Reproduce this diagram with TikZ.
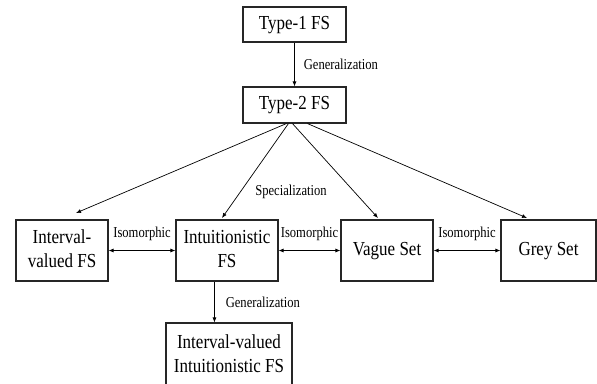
\documentclass[tikz,border=0pt]{standalone}
\usepackage{fontspec}
\usepackage{graphicx}
\setmainfont{Liberation Serif}
\usetikzlibrary{arrows.meta,calc}
\newcommand{\bt}[1]{\scalebox{1}[1.17]{\fontsize{17}{21}\selectfont\begin{tabular}{@{}c@{}}#1\end{tabular}}}
\newcommand{\lt}[1]{\scalebox{1}[1.2]{\fontsize{12.6}{14}\selectfont #1}}
\begin{document}
\begin{tikzpicture}[x=1pt,y=-1pt,
  box/.style={draw=black!85,line width=1.1pt,inner sep=2pt,align=center},
  lab/.style={inner sep=1pt},
  arr/.style={line width=0.7pt,-{Latex[length=5pt,width=4pt]}},
  darr/.style={line width=0.7pt,{Latex[length=5pt,width=4pt]}-{Latex[length=5pt,width=4pt]}}]
\useasboundingbox (0,0) rectangle (597,383);
\node[box,minimum width=103pt,minimum height=35pt] (t1) at (294.5,24.5) {\bt{Type-1 FS}};
\node[box,minimum width=103pt,minimum height=36pt] (t2) at (294.5,105) {\bt{Type-2 FS}};
\node[box,minimum width=92pt,minimum height=61pt] (iv) at (62,250.5) {\bt{Interval-\\valued FS}};
\node[box,minimum width=102pt,minimum height=61pt] (ifs) at (227,250.5) {\bt{Intuitionistic\\FS}};
\node[box,minimum width=92pt,minimum height=61pt] (vs) at (387,250.5) {\bt{Vague Set}};
\node[box,minimum width=95pt,minimum height=61pt] (gs) at (548.5,250.5) {\bt{Grey Set}};
\node[box,minimum width=126pt,minimum height=65pt] (ivifs) at (229,355.5) {\bt{Interval-valued\\Intuitionistic FS}};
% connectors
\draw[arr] (t1.south) -- (t2.north) node[lab,midway,right=8pt] (g1) {\lt{Generalization}};
\coordinate (e1) at (76,213);
\coordinate (e2) at (222,218);
\coordinate (e3) at (378,218);
\coordinate (e4) at (527,218);
\draw[arr] ($(t2.south west)+(44,0)$) -- (e1);
\draw[arr] ($(t2.south west)+(46,0)$) -- (e2);
\draw[arr] ($(t2.south west)+(50,0)$) -- (e3);
\draw[arr] ($(t2.south west)+(65,0)$) -- (e4);
\node[lab] (sp) at (291,192) {\lt{Specialization}};
\draw[darr] (iv.east) -- (ifs.west) node[lab,midway,above=8pt] (i1) {\lt{Isomorphic}};
\draw[darr] (ifs.east) -- (vs.west) node[lab,midway,above=8pt] (i2) {\lt{Isomorphic}};
\draw[darr] (vs.east) -- (gs.west) node[lab,midway,above=8pt] (i3) {\lt{Isomorphic}};
\draw[arr] ($(ifs.south west)+(39,0)$) -- ($(ivifs.north west)+(49,0)$) node[lab,midway,right=10pt] (g2) {\lt{Generalization}};
\end{tikzpicture}
\end{document}
